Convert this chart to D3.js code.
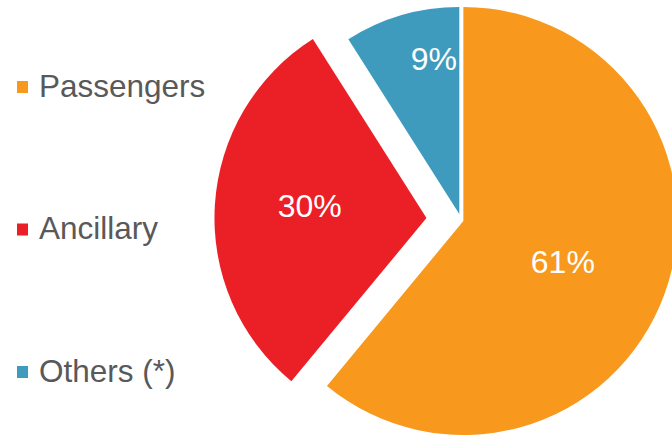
<!DOCTYPE html>
<html>
<head>
<meta charset="utf-8">
<script src="https://cdn.jsdelivr.net/npm/d3@7"></script>
<style>
  html, body { margin: 0; padding: 0; background: #fff; }
  svg { display: block; }
  text { font-family: "Liberation Sans", Arial, sans-serif; }
</style>
</head>
<body>
<svg id="chart" width="672" height="437"></svg>
<script>
const categories = ["Passengers", "Ancillary", "Others (*)"];
const shares = [61, 30, 9];
const valueLabels = ["61%", "30%", "9%"];
const colors = ["#F8991D", "#EB1F26", "#3F9BBE"];

const svg = d3.select("#chart");
const cx = 461.1, cy = 220.2;
const explode = [2.4, 34.7, 6.5];
const radii = [214, 212, 207];
const labelR = [110, 117, 156];
const labelNudge = [[-4, 3], [0, -5], [18, -6]];

const pie = d3.pie().sort(null).value(d => d).startAngle(0).endAngle(2 * Math.PI);
const arcs = pie(shares);

const g = svg.append("g").attr("transform", `translate(${cx},${cy})`);

const slices = g.selectAll("g.slice").data(arcs).enter().append("g")
  .attr("class", "slice")
  .attr("transform", (d, i) => {
    const mid = (d.startAngle + d.endAngle) / 2;
    return `translate(${explode[i] * Math.sin(mid)},${-explode[i] * Math.cos(mid)})`;
  });

slices.append("path")
  .attr("d", (d, i) => d3.arc().innerRadius(0).outerRadius(radii[i])(d))
  .attr("fill", (d, i) => colors[i]);

slices.append("text")
  .attr("x", (d, i) => d3.arc().innerRadius(labelR[i]).outerRadius(labelR[i]).centroid(d)[0] + labelNudge[i][0])
  .attr("y", (d, i) => d3.arc().innerRadius(labelR[i]).outerRadius(labelR[i]).centroid(d)[1] + labelNudge[i][1] + 11.5)
  .attr("text-anchor", "middle")
  .attr("font-size", 32)
  .attr("fill", "#ffffff")
  .text((d, i) => valueLabels[i]);

// Legend
const ly = d3.scalePoint().domain(categories).range([87, 372]);
const legend = svg.selectAll("g.legend").data(categories).enter().append("g")
  .attr("class", "legend")
  .attr("transform", d => `translate(0,${ly(d)})`);
legend.append("rect")
  .attr("x", 17).attr("y", -6).attr("width", 11).attr("height", 12)
  .attr("fill", (d, i) => colors[i]);
legend.append("text")
  .attr("x", 39).attr("y", 9.5)
  .attr("font-size", 31.5)
  .attr("fill", "#595959")
  .text(d => d);
</script>
</body>
</html>
